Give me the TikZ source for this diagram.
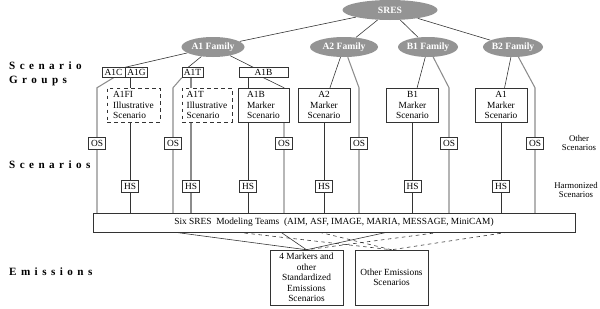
\documentclass[tikz,border=0pt]{standalone}
\usepackage{fontspec}
\setmainfont{Liberation Serif}
\newfontfamily\spacedfont[LetterSpace=40]{Liberation Serif}
\usepackage{xcolor}
\usepackage{tikz}
\usetikzlibrary{positioning, calc, backgrounds, shapes.geometric}
\definecolor{FamilyColor}{rgb}{0.58,0.58,0.58}
\newcommand{\boxfont}{\fontsize{8}{9}\selectfont}
\newcommand{\rowfont}{\spacedfont\bfseries\fontsize{9.5}{11.5}\selectfont}
\tikzset{
    famnode/.style={
        ellipse,
        fill=FamilyColor,
        text=white,
        font=\fontsize{8.2}{9}\selectfont\bfseries,
        inner sep=0pt,
        minimum width=#1,
        minimum height=0.6cm
    },
    famnode/.default=1.9cm,
    groupbox/.style={
        rectangle,
        draw=black!80,
        fill=white,
        font=\boxfont,
        inner sep=0pt,
        minimum width=#1,
        minimum height=0.3cm
    },
    scenbox/.style={
        rectangle,
        draw=black!80,
        fill=white,
        font=\boxfont,
        align=center,
        inner sep=1pt,
        minimum width=1.55cm,
        minimum height=1.02cm
    },
    illusbox/.style={scenbox, dashed, align=left},
    tagbox/.style={
        rectangle,
        draw=black!80,
        fill=white,
        font=\boxfont,
        inner sep=0pt,
        minimum width=0.52cm,
        minimum height=0.37cm
    },
    conn/.style={draw=black!80, line width=0.5pt},
    oconn/.style={draw=black!45, line width=0.9pt},
    sidelabel/.style={font=\fontsize{7.5}{8.5}\selectfont, align=center},
    rowlabel/.style={anchor=west, align=left, font=\rowfont}
}

\begin{document}
\begin{tikzpicture}[x=0.03cm, y=-0.03cm]
\useasboundingbox (0,0) rectangle (600,308);

% Row titles
\node[rowlabel] (row_groups) at (5,74) {Scenario\\Groups};
\node[rowlabel] (row_scen) at (5,165) {Scenarios};
\node[rowlabel] (row_emis) at (5,272) {Emissions};

% Families
\node[famnode=2.85cm] (sres) at (390,10) {SRES};
\node[famnode=1.89cm] (fam_a1) at (213,47) {A1 Family};
\node[famnode=2.04cm] (fam_a2) at (344,47) {A2 Family};
\node[famnode=1.8cm] (fam_b1) at (428,47) {B1 Family};
\node[famnode=1.74cm] (fam_b2) at (513,47) {B2 Family};

% Scenario groups
\node[groupbox=0.69cm] (grp_a1c) at (113.5,72.5) {A1C};
\node[groupbox=0.66cm, right=0pt of grp_a1c] (grp_a1g) {A1G};
\node[groupbox=0.63cm] (grp_a1t) at (192.5,72.5) {A1T};
\node[groupbox=1.47cm] (grp_a1b) at (263.5,72.5) {A1B};

% Scenarios
\node[illusbox, minimum width=1.59cm] (sc_a1fi) at (133.5,105) {A1FI\\Illustrative\\Scenario};
\node[illusbox, minimum width=1.5cm] (sc_a1t) at (207,105) {A1T\\Illustrative\\Scenario};
\node[scenbox, align=left, minimum width=1.53cm] (sc_a1b) at (263.5,105) {A1B\\Marker\\Scenario};
\node[scenbox] (sc_a2) at (324,105) {A2\\Marker\\Scenario};
\node[scenbox] (sc_b1) at (412.5,105) {B1\\Marker\\Scenario};
\node[scenbox] (sc_a1m) at (501,105) {A1\\Marker\\Scenario};

% Other scenarios
\node[tagbox] (os_1) at (97,143) {OS};
\node[tagbox] (os_2) at (173,143) {OS};
\node[tagbox] (os_3) at (284,143) {OS};
\node[tagbox] (os_4) at (359,143) {OS};
\node[tagbox] (os_5) at (449,143) {OS};
\node[tagbox] (os_6) at (535,143) {OS};
\node[sidelabel] (lbl_os) at (579,143) {Other\\Scenarios};

% Harmonized scenarios
\node[tagbox] (hs_1) at (130,186.5) {HS};
\node[tagbox] (hs_2) at (191,186.5) {HS};
\node[tagbox] (hs_3) at (248,186.5) {HS};
\node[tagbox] (hs_4) at (324,186.5) {HS};
\node[tagbox] (hs_5) at (412.5,186.5) {HS};
\node[tagbox] (hs_6) at (501,186.5) {HS};
\node[sidelabel] (lbl_hs) at (576,190) {Harmonized\\Scenarios};

% Modeling teams
\node[rectangle, draw=black!80, fill=white, font=\boxfont, minimum width=14.46cm, minimum height=0.57cm] (teams) at (334,222.5)
    {Six SRES\ \ Modeling Teams\ \ (AIM, ASF, IMAGE, MARIA, MESSAGE, MiniCAM)};

% Emissions
\node[scenbox, minimum width=2.19cm, minimum height=1.65cm] (mk) at (306.5,277.5)
    {4 Markers and\\other\\Standardized\\Emissions\\Scenarios};
\node[scenbox, minimum width=2.19cm, minimum height=1.65cm] (oth) at (391.5,277.5)
    {Other Emissions\\Scenarios};

\begin{scope}[on background layer]
% SRES to families
\draw[conn] (sres) -- (fam_a1);
\draw[conn] (sres) -- (fam_a2);
\draw[conn] (sres) -- (fam_b1);
\draw[conn] (sres) -- (fam_b2);

% A1 family
\draw[conn] (fam_a1) -- (grp_a1c.north east);
\draw[conn] (fam_a1) -- ($(grp_a1t.north west)!0.3!(grp_a1t.north east)$);
\draw[conn] (fam_a1) -- (grp_a1b);
\draw[oconn] (grp_a1c.south) -- (os_1 |- sc_a1fi.north) -- (os_1 |- teams.north);
\draw[conn] (grp_a1g.south -| hs_1) -- (sc_a1fi.north -| hs_1);
\draw[conn] (sc_a1fi.south -| hs_1) -- (teams.north -| hs_1);
\draw[oconn] (grp_a1t.south west) -- (os_2 |- sc_a1t.north) -- (os_2 |- teams.north);
\draw[oconn] (grp_a1t.south -| hs_2) -- (sc_a1t.north -| hs_2);
\draw[oconn] (sc_a1t.south -| hs_2) -- (teams.north -| hs_2);
\draw[conn] (grp_a1b.south -| hs_3) -- (sc_a1b.north -| hs_3);
\draw[conn] (sc_a1b.south -| hs_3) -- (teams.north -| hs_3);
\draw[conn] (grp_a1b.south) -- (os_3 |- sc_a1b.north) -- (os_3 |- teams.north);

% A2, B1, B2 families
\draw[conn] (fam_a2) -- (sc_a2);
\draw[oconn] (fam_a2) -- (os_4 |- sc_a2.north) -- (os_4 |- teams.north);
\draw[conn] (sc_a2.south) -- (teams.north -| sc_a2.south);
\draw[conn] (fam_b1) -- (sc_b1);
\draw[oconn] (fam_b1) -- (os_5 |- sc_b1.north) -- (os_5 |- teams.north);
\draw[conn] (sc_b1.south) -- (teams.north -| sc_b1.south);
\draw[conn] (fam_b2) -- (sc_a1m);
\draw[oconn] (fam_b2) -- (os_6 |- sc_a1m.north) -- (os_6 |- teams.north);
\draw[conn] (sc_a1m.south) -- (teams.north -| sc_a1m.south);

% Teams to emissions
\draw[conn] ($(teams.south west)!0.17!(teams.south east)$) -- (mk.north);
\draw[conn] ($(teams.south west)!0.39!(teams.south east)$) -- (mk.north);
\draw[conn] ($(teams.south west)!0.61!(teams.south east)$) -- (mk.north);
\draw[conn, dashed] ($(teams.south west)!0.72!(teams.south east)$) -- (mk.north);
\draw[conn, dashed] ($(teams.south west)!0.30!(teams.south east)$) -- (oth.north);
\draw[conn, dashed] ($(teams.south west)!0.47!(teams.south east)$) -- (oth.north);
\draw[conn, dashed] ($(teams.south west)!0.86!(teams.south east)$) -- (oth.north);
\end{scope}

\end{tikzpicture}
\end{document}
